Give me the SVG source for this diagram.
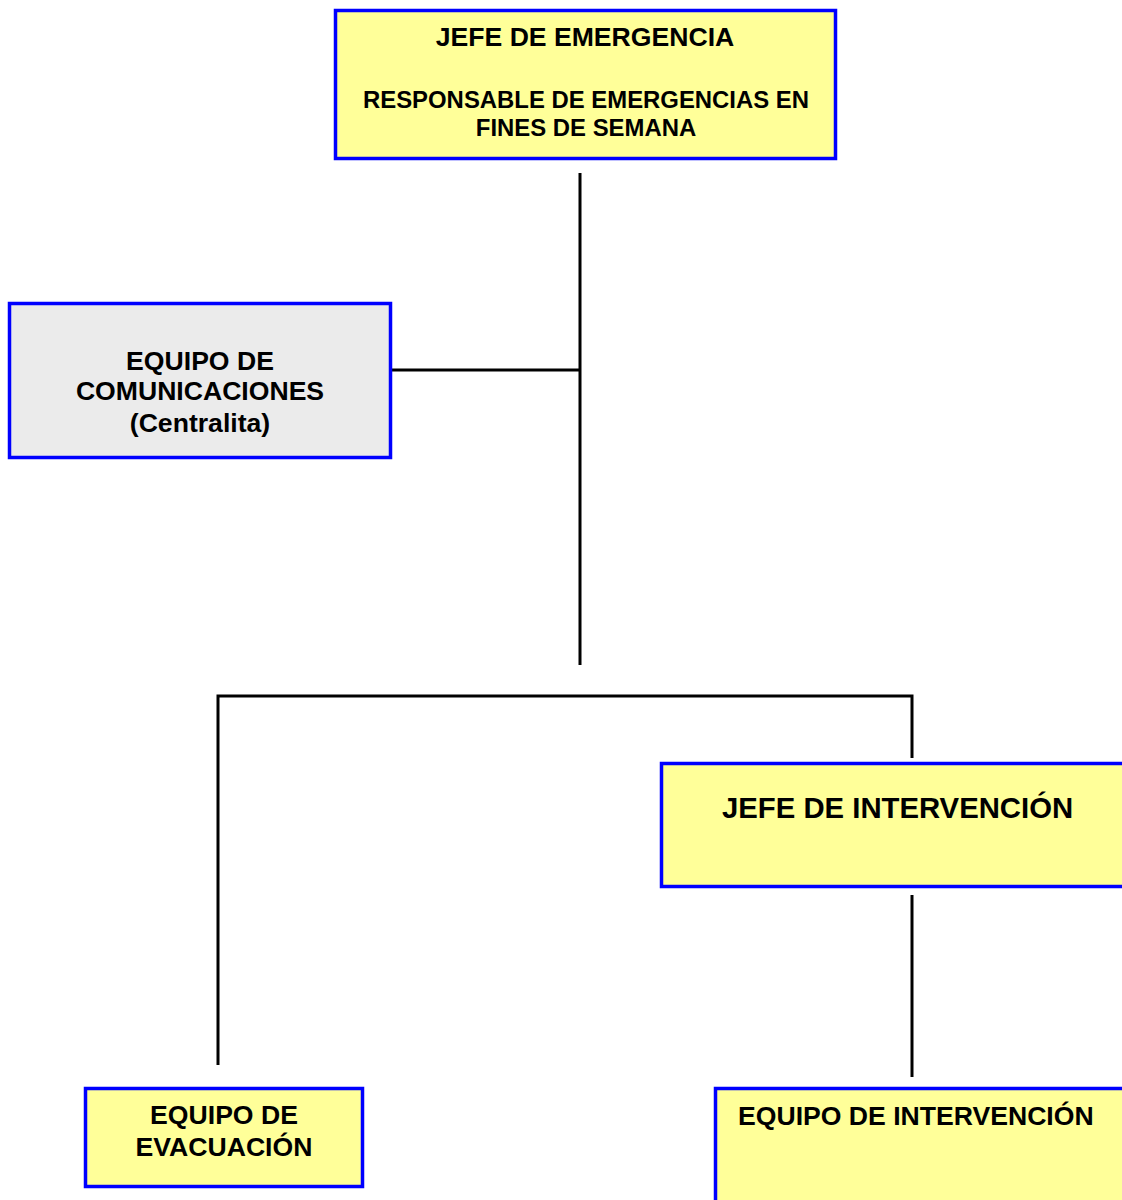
<svg xmlns="http://www.w3.org/2000/svg" width="1122" height="1200" viewBox="0 0 1122 1200">
<style>
.box{stroke:#0000ff;stroke-width:3.5}
.y{fill:#ffff99}
.g{fill:#ebebeb}
.t{font-family:"Liberation Sans",Arial,sans-serif;font-weight:bold;fill:#000}
.c{stroke:#000;stroke-width:3;fill:none}
</style>
<rect width="1122" height="1200" fill="#fff"/>
<g id="connectors">
<line class="c" x1="580" y1="173" x2="580" y2="665"/>
<line class="c" x1="391" y1="370" x2="580" y2="370"/>
<polyline class="c" points="218,1065 218,696 912,696 912,758"/>
<line class="c" x1="912" y1="895" x2="912" y2="1077"/>
</g>
<g id="jefe-emergencia">
<rect class="box y" x="335.5" y="10.5" width="500" height="148"/>
<text class="t" x="585" y="46" font-size="26.6" text-anchor="middle">JEFE DE EMERGENCIA</text>
<text class="t" x="586" y="108" font-size="23.9" text-anchor="middle">RESPONSABLE DE EMERGENCIAS EN</text>
<text class="t" x="586" y="136" font-size="23.9" text-anchor="middle">FINES DE SEMANA</text>
</g>
<g id="equipo-comunicaciones">
<rect class="box g" x="9.5" y="303.5" width="381" height="154"/>
<text class="t" x="200" y="370" font-size="26.6" text-anchor="middle">EQUIPO DE</text>
<text class="t" x="200" y="400" font-size="26.6" text-anchor="middle">COMUNICACIONES</text>
<text class="t" x="200" y="432" font-size="26.6" text-anchor="middle">(Centralita)</text>
</g>
<g id="jefe-intervencion">
<rect class="box y" x="661.5" y="763.5" width="470" height="123"/>
<text class="t" x="722" y="818" font-size="29.3">JEFE DE INTERVENCIÓN</text>
</g>
<g id="equipo-evacuacion">
<rect class="box y" x="85.5" y="1088.5" width="277" height="98"/>
<text class="t" x="224" y="1124" font-size="26.6" text-anchor="middle">EQUIPO DE</text>
<text class="t" x="224" y="1156" font-size="26.6" text-anchor="middle">EVACUACIÓN</text>
</g>
<g id="equipo-intervencion">
<rect class="box y" x="715.5" y="1088.5" width="420" height="130"/>
<text class="t" x="738" y="1125" font-size="26.6">EQUIPO DE INTERVENCIÓN</text>
</g>
</svg>
